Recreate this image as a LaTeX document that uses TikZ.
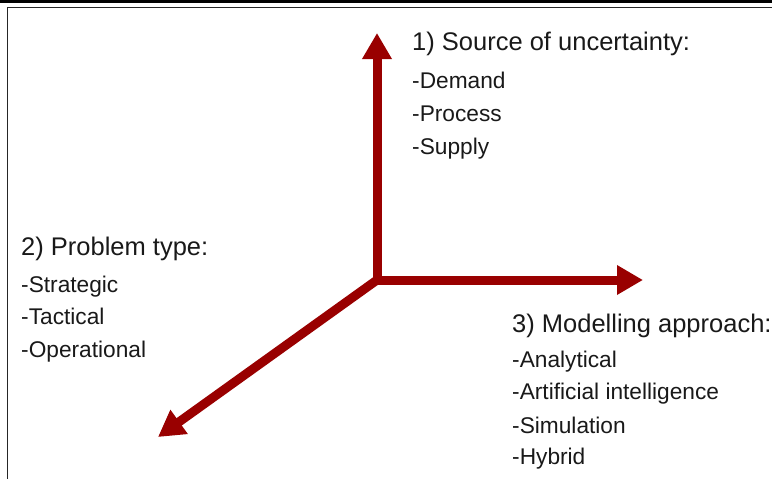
\documentclass[tikz,border=0pt]{standalone}
\usepackage{fontspec}
\setmainfont{Liberation Sans}
\usetikzlibrary{arrows.meta}

\definecolor{axisred}{RGB}{153,0,0}
\definecolor{textgrey}{RGB}{25,25,25}

\tikzset{
  axisarrow/.style={draw=axisred, line width=9pt,
    -{Triangle[length=26pt,width=28pt]}},
  heading/.style={anchor=base west, inner sep=0pt, text=textgrey,
    font=\fontsize{25.5pt}{30pt}\selectfont},
  entry/.style={anchor=base west, inner sep=0pt, text=textgrey,
    font=\fontsize{22.7pt}{26pt}\selectfont}
}

\begin{document}
\begin{tikzpicture}[x=1pt, y=-1pt]
  \useasboundingbox (0,0) rectangle (772,479);

  % Frame
  \fill[black] (0,0) rectangle (772,2.5);
  \draw[black!85, line width=1.6pt] (7.5,479) -- (7.5,7.5) -- (772,7.5);

  % Axes
  \coordinate (origin) at (377,280);
  \coordinate (upTip) at (377,33);
  \coordinate (rightTip) at (643,280);
  \coordinate (downTip) at (158,437);

  \draw[axisarrow] (origin) -- (upTip);
  \draw[axisarrow] (origin) -- (rightTip);
  \draw[axisarrow] (origin) -- (downTip);

  % 1) Source of uncertainty
  \node[heading] (source) at (412,50) {1) Source of uncertainty:};
  \node[entry] (demand) at (412,88) {-Demand};
  \node[entry] (process) at (412,121) {-Process};
  \node[entry] (supply) at (412,154) {-Supply};

  % 2) Problem type
  \node[heading] (problem) at (21,255) {2) Problem type:};
  \node[entry] (strategic) at (21,292) {-Strategic};
  \node[entry] (tactical) at (21,324) {-Tactical};
  \node[entry] (operational) at (21,357) {-Operational};

  % 3) Modelling approach
  \node[heading] (modelling) at (512,332) {3) Modelling approach:};
  \node[entry] (analytical) at (512,367) {-Analytical};
  \node[entry] (artificial) at (512,399) {-Artificial intelligence};
  \node[entry] (simulation) at (512,433) {-Simulation};
  \node[entry] (hybrid) at (512,464) {-Hybrid};
\end{tikzpicture}
\end{document}
